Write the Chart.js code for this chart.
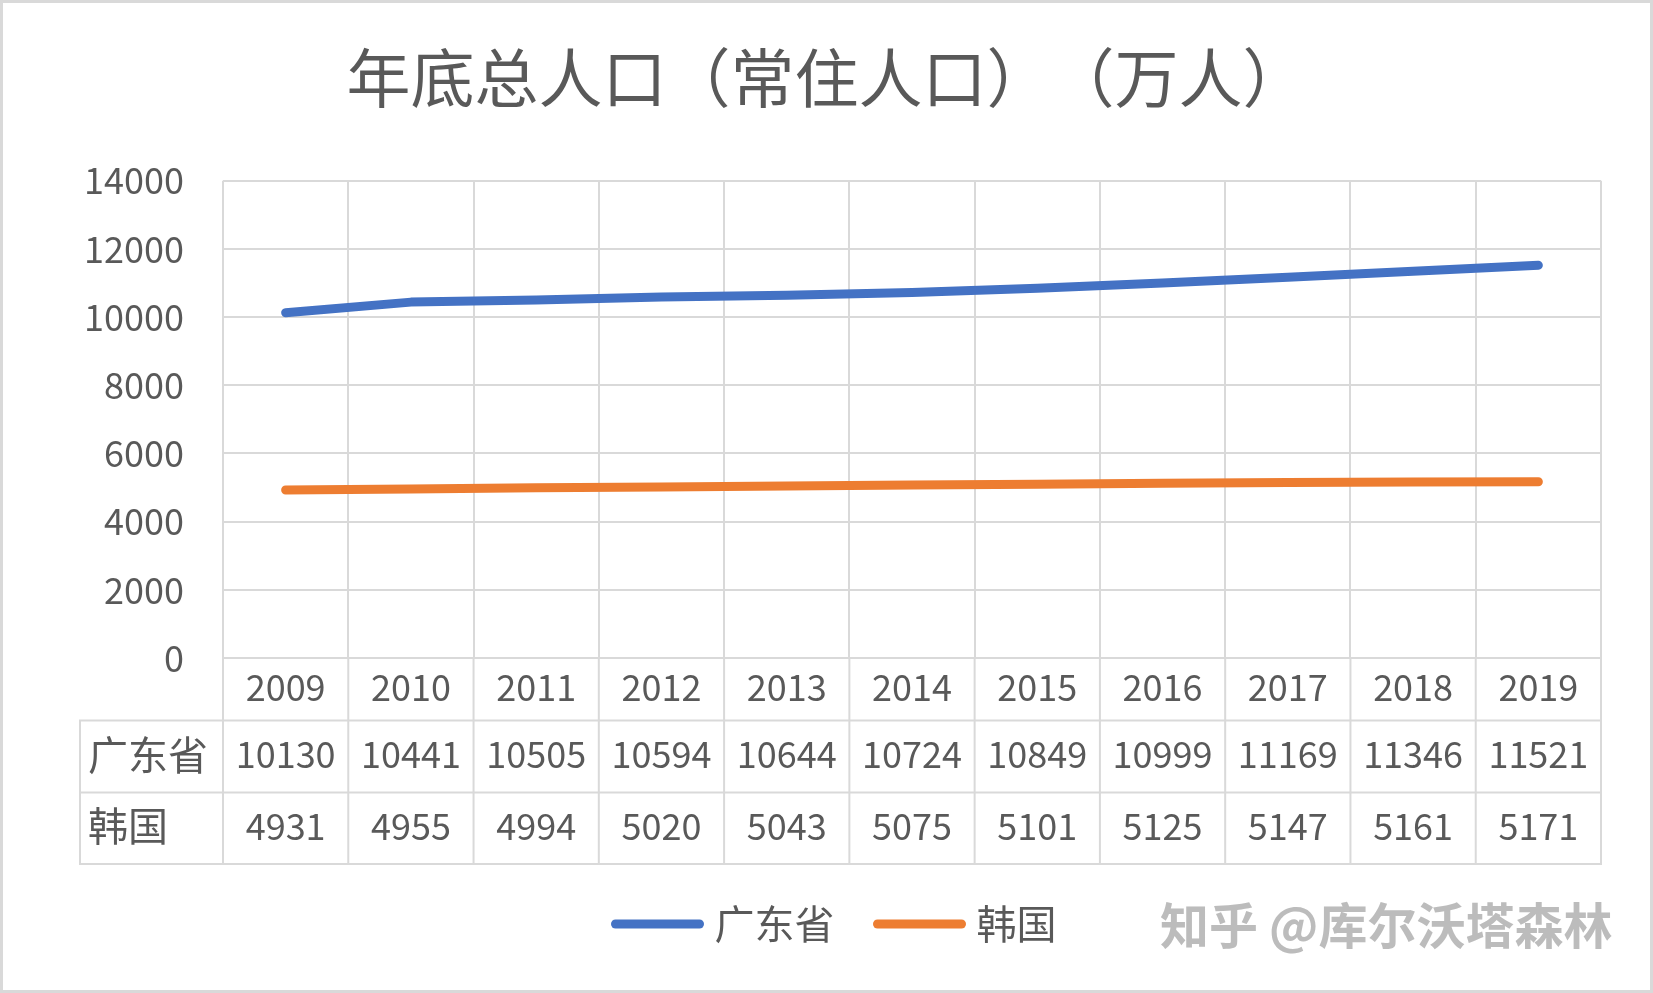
<!DOCTYPE html>
<html>
<head>
<meta charset="utf-8">
<script src="https://cdn.jsdelivr.net/npm/chart.js@4/dist/chart.umd.min.js"></script>
<style>
  html, body { margin: 0; padding: 0; background: #ffffff; }
  #wrap { width: 1653px; height: 993px; position: relative; }
</style>
</head>
<body>
<div id="wrap"><canvas id="c" width="1653" height="993"></canvas></div>
<script>
const titleText = '年底总人口（常住人口）\u200B（万人）';
const years = ['2009','2010','2011','2012','2013','2014','2015','2016','2017','2018','2019'];
const seriesNames = ['广东省', '韩国'];
const guangdong = [10130,10441,10505,10594,10644,10724,10849,10999,11169,11346,11521];
const korea = [4931,4955,4994,5020,5043,5075,5101,5125,5147,5161,5171];
const yTicks = [0,2000,4000,6000,8000,10000,12000,14000];
const seriesColors = ['#4472C4', '#ED7D31'];
const watermark = '知乎 @库尔沃塔森林';

const FONT = '"Noto Sans CJK SC", "Noto Sans", sans-serif';
const TEXT = '#595959';
const GRID = '#d9d9d9';
Chart.defaults.font.family = FONT;
Chart.defaults.color = TEXT;

function lineSwatch(color) {
  const cv = document.createElement('canvas');
  cv.width = 93; cv.height = 12;
  const g = cv.getContext('2d');
  g.strokeStyle = color;
  g.lineWidth = 9;
  g.lineCap = 'round';
  g.beginPath();
  g.moveTo(4.5, 6); g.lineTo(88.5, 6);
  g.stroke();
  return cv;
}
const swatches = seriesColors.map(lineSwatch);

const bgPlugin = {
  id: 'bg',
  beforeDraw(chart) {
    const c = chart.ctx;
    c.save();
    c.fillStyle = '#ffffff';
    c.fillRect(0, 0, chart.width, chart.height);
    c.restore();
  },
  afterLayout(chart) {
    const lg = chart.legend;
    if (lg) { lg.left += 12; lg.right += 12; }
  },
  afterDraw(chart) {
    const c = chart.ctx;
    const xs = chart.scales.x;
    const area = chart.chartArea;
    const n = years.length;
    const colW = xs.getPixelForValue(1) - xs.getPixelForValue(0);
    const bounds = [];
    for (let i = 0; i <= n; i++) bounds.push(xs.getPixelForValue(0) - colW / 2 + i * colW);
    const y0 = area.bottom;
    const y1 = y0 + 62.5;
    const y2 = y1 + 72;
    const y3 = y2 + 71.5;
    const hdrX = 80;
    c.save();
    c.strokeStyle = GRID;
    c.lineWidth = 2;
    c.beginPath();
    bounds.forEach(b => { c.moveTo(b, y0); c.lineTo(b, y3); });
    c.moveTo(hdrX, y1); c.lineTo(hdrX, y3);
    [y1, y2, y3].forEach(y => { c.moveTo(hdrX - 1, y); c.lineTo(bounds[n] + 1, y); });
    c.stroke();

    c.fillStyle = TEXT;
    c.font = '36px ' + FONT;
    c.textBaseline = 'middle';
    c.textAlign = 'center';
    const rows = [guangdong, korea];
    years.forEach((yr, i) => {
      const cx = xs.getPixelForValue(i);
      c.fillText(yr, cx, (y0 + y1) / 2 - 2);
      c.fillText(String(rows[0][i]), cx, (y1 + y2) / 2 - 2);
      c.fillText(String(rows[1][i]), cx, (y2 + y3) / 2 - 2);
    });
    c.textAlign = 'left';
    c.font = '40px ' + FONT;
    c.fillText(seriesNames[0], hdrX + 8, (y1 + y2) / 2 - 2);
    c.fillText(seriesNames[1], hdrX + 8, (y2 + y3) / 2 - 2);

    // watermark
    c.font = 'bold 49px ' + FONT;
    c.lineWidth = 3;
    c.strokeStyle = 'rgba(255,255,255,0.9)';
    c.strokeText(watermark, 1160, 925);
    c.fillStyle = 'rgba(160,160,160,0.7)';
    c.fillText(watermark, 1160, 925);

    // outer border
    c.strokeStyle = GRID;
    c.lineWidth = 3;
    c.strokeRect(1.5, 1.5, chart.width - 3, chart.height - 3);
    c.restore();
  }
};

new Chart(document.getElementById('c'), {
  type: 'line',
  data: {
    labels: years,
    datasets: [
      { label: seriesNames[0], data: guangdong, borderColor: seriesColors[0], backgroundColor: seriesColors[0],
        borderWidth: 9, pointRadius: 0, borderCapStyle: 'round', borderJoinStyle: 'round', tension: 0 },
      { label: seriesNames[1], data: korea, borderColor: seriesColors[1], backgroundColor: seriesColors[1],
        borderWidth: 9, pointRadius: 0, borderCapStyle: 'round', borderJoinStyle: 'round', tension: 0 }
    ]
  },
  options: {
    responsive: false,
    animation: false,
    devicePixelRatio: 1,
    layout: { padding: { left: 52, right: 52, top: 0, bottom: 39 } },
    plugins: {
      title: {
        display: true, text: titleText, color: TEXT,
        font: { size: 64, weight: 'normal', family: FONT },
        padding: { top: 39, bottom: 65 }
      },
      legend: {
        position: 'bottom',
        labels: {
          color: TEXT,
          font: { size: 40, family: FONT },
          usePointStyle: true, pointStyleWidth: 74, boxHeight: 12,
          padding: 48,
          generateLabels(chart) {
            const items = Chart.defaults.plugins.legend.labels.generateLabels(chart);
            items.forEach((it, i) => { it.pointStyle = swatches[i]; it.lineWidth = 0; });
            return items;
          }
        }
      },
      tooltip: { enabled: false }
    },
    scales: {
      x: {
        type: 'category',
        offset: true,
        grid: { offset: true, color: GRID, lineWidth: 2, drawTicks: false },
        border: { display: false },
        ticks: { display: false },
        afterFit(scale) { scale.height = 198; }
      },
      y: {
        min: 0, max: 14000,
        afterBuildTicks(scale) { scale.ticks = yTicks.map(v => ({ value: v })); },
        grid: { color: GRID, lineWidth: 2, drawTicks: false },
        border: { display: false },
        ticks: { padding: 39, color: TEXT, font: { size: 36, family: FONT },
                 callback: v => String(v) },
        afterFit(scale) { scale.width = 171; }
      }
    }
  },
  plugins: [bgPlugin]
});
</script>
</body>
</html>
